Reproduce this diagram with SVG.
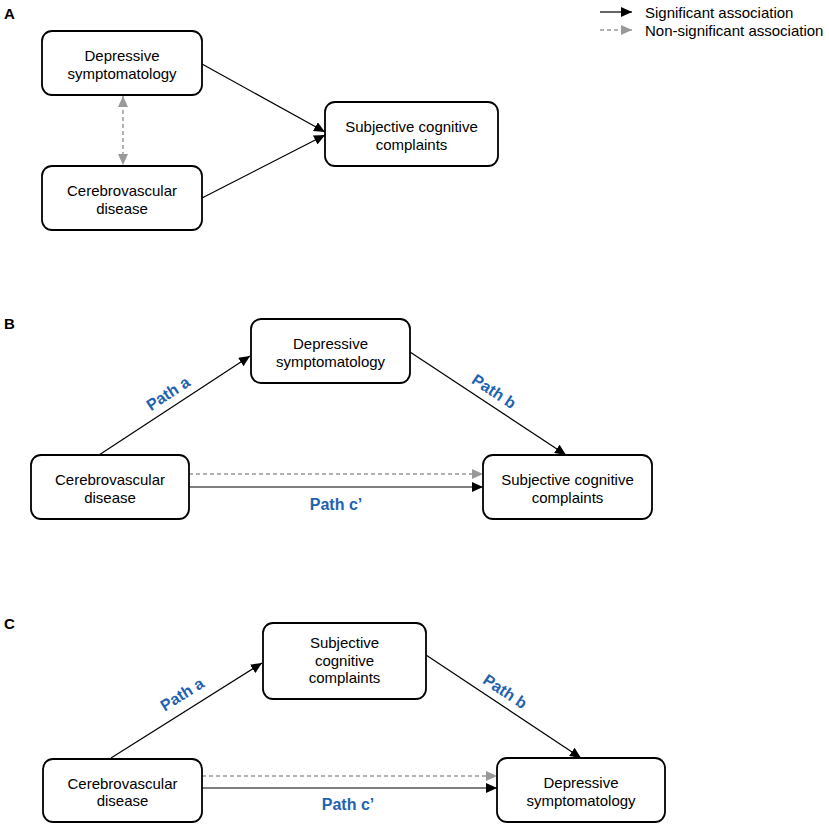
<svg xmlns="http://www.w3.org/2000/svg" width="829" height="825" viewBox="0 0 829 825">
<style>
.box{fill:#fff;stroke:#000;stroke-width:1.8}
.t{font-family:"Liberation Sans",Arial,sans-serif;font-size:15px;fill:#000;text-anchor:middle}
.lg{font-family:"Liberation Sans",Arial,sans-serif;font-size:15px;fill:#000}
.ttl{font-family:"Liberation Sans",Arial,sans-serif;font-size:15px;font-weight:bold;fill:#000}
.pl{font-family:"Liberation Sans",Arial,sans-serif;font-size:16px;font-weight:bold;fill:#1f63b0;text-anchor:middle}
.s{stroke:#000;stroke-width:1.2;fill:none;marker-end:url(#ab)}
.d{stroke:#999;stroke-width:1.5;stroke-dasharray:4 3;fill:none;marker-end:url(#ag)}
</style>
<defs>
<marker id="ab" markerUnits="userSpaceOnUse" markerWidth="12" markerHeight="10" refX="11" refY="5" orient="auto"><path d="M0,0 L11,5 L0,10 Z" fill="#000"/></marker>
<marker id="ag" markerUnits="userSpaceOnUse" markerWidth="12" markerHeight="10" refX="11" refY="5" orient="auto"><path d="M0,0 L11,5 L0,10 Z" fill="#999"/></marker>
<marker id="ags" markerUnits="userSpaceOnUse" markerWidth="12" markerHeight="10" refX="11" refY="5" orient="auto-start-reverse"><path d="M0,0 L11,5 L0,10 Z" fill="#999"/></marker>
</defs>
<rect width="829" height="825" fill="#fff"/>
<text class="ttl" x="4" y="19">A</text>
<text class="ttl" x="4" y="329">B</text>
<text class="ttl" x="4" y="629">C</text>
<g id="legend">
<line x1="600" y1="12" x2="632" y2="12" class="s"/>
<text class="lg" x="645" y="18">Significant association</text>
<line x1="600" y1="30" x2="632" y2="30" class="d"/>
<text class="lg" x="645" y="36">Non-significant association</text>
</g>
<g id="connectors">
<line x1="202" y1="64" x2="325" y2="132" class="s"/>
<line x1="202" y1="198" x2="325" y2="135" class="s"/>
<line x1="123" y1="96" x2="123" y2="165" stroke="#999" stroke-width="1.5" stroke-dasharray="4 3" marker-start="url(#ags)" marker-end="url(#ags)"/>
<line x1="99" y1="455" x2="250" y2="356" class="s"/>
<line x1="410" y1="352" x2="566" y2="455" class="s"/>
<line x1="189" y1="474" x2="483" y2="474" class="d"/>
<line x1="189" y1="487" x2="483" y2="487" class="s"/>
<line x1="111" y1="758" x2="262" y2="663" class="s"/>
<line x1="426" y1="655" x2="581" y2="758" class="s"/>
<line x1="202" y1="776" x2="497" y2="776" class="d"/>
<line x1="202" y1="788" x2="497" y2="788" class="s"/>
<text class="pl" transform="translate(171,398) rotate(-33.2)">Path a</text>
<text class="pl" transform="translate(491,396) rotate(33.4)">Path b</text>
<text class="pl" x="336" y="510">Path c’</text>
<text class="pl" transform="translate(185,699) rotate(-32.2)">Path a</text>
<text class="pl" transform="translate(502,696) rotate(33.6)">Path b</text>
<text class="pl" x="348" y="810">Path c’</text>
</g>
<g id="a-depr"><rect class="box" x="42" y="31" width="160" height="64" rx="10"/><text class="t" x="122" y="61">Depressive</text><text class="t" x="122" y="78.5">symptomatology</text></g>
<g id="a-cvd"><rect class="box" x="42" y="166" width="160" height="64" rx="10"/><text class="t" x="122" y="196">Cerebrovascular</text><text class="t" x="122" y="213.5">disease</text></g>
<g id="a-scc"><rect class="box" x="325" y="102" width="173" height="64" rx="10"/><text class="t" x="411.5" y="132">Subjective cognitive</text><text class="t" x="411.5" y="149.5">complaints</text></g>
<g id="b-depr"><rect class="box" x="251" y="319" width="159" height="64" rx="10"/><text class="t" x="330.5" y="349">Depressive</text><text class="t" x="330.5" y="366.5">symptomatology</text></g>
<g id="b-cvd"><rect class="box" x="31" y="455" width="158" height="64" rx="10"/><text class="t" x="110" y="485">Cerebrovascular</text><text class="t" x="110" y="502.5">disease</text></g>
<g id="b-scc"><rect class="box" x="483" y="455" width="169" height="64" rx="10"/><text class="t" x="567.5" y="485">Subjective cognitive</text><text class="t" x="567.5" y="502.5">complaints</text></g>
<g id="c-scc"><rect class="box" x="263" y="623" width="163" height="76" rx="10"/><text class="t" x="344.5" y="648">Subjective</text><text class="t" x="344.5" y="665.5">cognitive</text><text class="t" x="344.5" y="683">complaints</text></g>
<g id="c-cvd"><rect class="box" x="43" y="759" width="159" height="63" rx="10"/><text class="t" x="122.5" y="788.5">Cerebrovascular</text><text class="t" x="122.5" y="806">disease</text></g>
<g id="c-depr"><rect class="box" x="497" y="758" width="168" height="64" rx="10"/><text class="t" x="581" y="788">Depressive</text><text class="t" x="581" y="805.5">symptomatology</text></g>
</svg>
